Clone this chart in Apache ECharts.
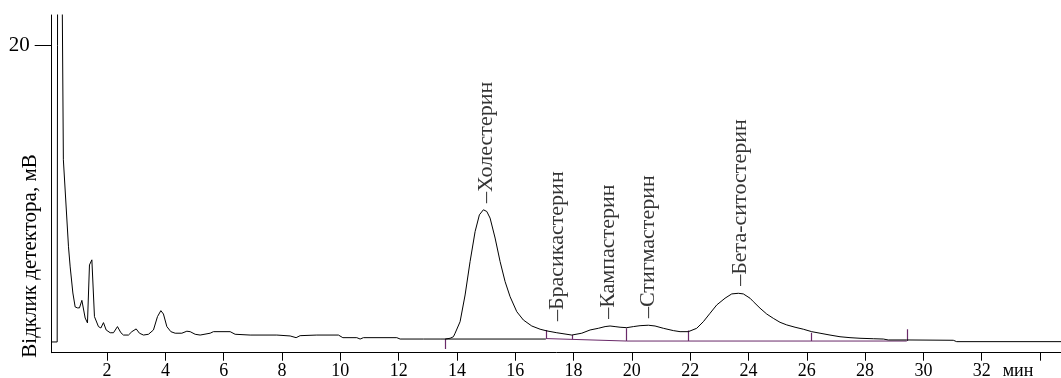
<!DOCTYPE html>
<html><head><meta charset="utf-8">
<script src="https://cdn.jsdelivr.net/npm/echarts@6/dist/echarts.min.js"></script>
<style>html,body{margin:0;padding:0;background:#fff}#c{width:1061px;height:378px}</style>
</head><body><div id="c"></div>
<script>
// Chromatogram trace: retention time (min) and detector response (mV)
const traceTime = [0.106,0.288,0.30,0.31,0.44,0.465,0.50,0.676,0.734,0.826,0.905,0.984,1.053,1.135,1.248,1.327,1.396,1.478,1.512,1.567,1.704,1.787,1.876,1.968,2.106,2.219,2.356,2.473,2.562,2.733,2.850,2.997,3.110,3.248,3.419,3.590,3.728,3.844,3.933,4.050,4.187,4.335,4.564,4.736,4.849,5.021,5.192,5.535,5.648,6.221,6.392,6.907,7.822,8.279,8.484,8.621,9.194,9.935,10.086,10.566,10.679,10.792,11.938,12.051,12.850,13.422,13.594,13.765,13.879,13.937,14.108,14.280,14.451,14.623,14.770,14.907,15.024,15.137,15.309,15.480,15.652,15.823,16.053,16.279,16.567,16.852,17.082,17.425,17.939,18.282,18.567,18.851,19.081,19.252,19.424,19.595,19.825,20.051,20.281,20.566,20.795,21.080,21.423,21.653,21.937,22.225,22.452,22.682,22.911,23.196,23.426,23.652,23.824,24.053,24.166,24.396,24.626,24.852,25.082,25.312,25.597,25.881,26.169,26.454,26.797,27.140,27.483,27.826,28.282,28.625,28.796,29.427,31.025,31.142,34.72];
const traceSignal = [0.70,0.70,20,45,45,22.0,12.57,6.90,5.59,3.89,2.98,2.92,2.92,3.41,2.26,1.94,5.72,6.05,6.08,2.35,1.70,1.61,1.96,1.48,1.30,1.30,1.70,1.30,1.15,1.15,1.37,1.55,1.27,1.15,1.20,1.48,2.35,2.74,2.52,1.70,1.37,1.27,1.27,1.40,1.37,1.20,1.15,1.27,1.37,1.37,1.20,1.15,1.15,1.09,0.98,1.11,1.15,1.15,0.98,0.98,0.89,0.98,0.98,0.89,0.89,0.89,0.89,0.94,1.04,1.27,2.02,3.76,5.94,7.89,8.98,9.31,9.20,8.77,7.47,5.94,4.63,3.65,2.67,2.13,1.74,1.53,1.42,1.30,1.15,1.27,1.48,1.59,1.70,1.74,1.70,1.66,1.63,1.70,1.76,1.79,1.74,1.59,1.44,1.37,1.37,1.59,2.02,2.57,3.11,3.55,3.83,3.87,3.83,3.55,3.33,2.90,2.52,2.24,1.98,1.81,1.66,1.53,1.37,1.27,1.15,1.04,0.98,0.94,0.91,0.89,0.83,0.83,0.81,0.72,0.72];

// Identified peaks
const peakNames = ['Холестерин','Брасикастерин','Кампастерин','Стигмастерин','Бета-ситостерин'];
const peakTimes = [15.0, 17.45, 19.2, 20.55, 23.7];
const peakHeights = [9.3, 1.6, 1.75, 1.8, 3.9];

// Integration baselines
const cholBaseTime = [13.6, 17.05];
const cholBaseSignal = [0.89, 0.89];
const sterolBaseTime = [17.05, 19.82, 29.43];
const sterolBaseSignal = [0.92, 0.76, 0.76];
const dropTime = [13.6, 17.05, 17.97, 19.82, 21.92, 26.17, 29.43];
const dropFrom = [0.24, 0.92, 0.87, 0.76, 0.76, 0.76, 0.76];
const dropTo = [0.89, 1.48, 1.15, 1.59, 1.44, 1.30, 1.53];

// Axis ticks
const xTickValues = [2,4,6,8,10,12,14,16,18,20,22,24,26,28,30,32,34];
const xTickLabels = ['2','4','6','8','10','12','14','16','18','20','22','24','26','28','30','32','мин'];
const yTickValues = [20];
const yTickLabels = ['20'];
const yAxisTitle = 'Відклик детектора, мВ';

const FONT = '"Liberation Serif", "DejaVu Serif", serif';
const PURPLE = '#6a2a69';

const chart = echarts.init(document.getElementById('c'), null, {renderer: 'canvas'});
chart.setOption({
  animation: false,
  backgroundColor: '#fff',
  grid: {left: 51.7, right: 0, top: 15, bottom: 25.3, containLabel: false, outerBoundsMode: 'none'},
  xAxis: {
    type: 'value', min: 0.1, max: 34.72,
    axisLine: {show: true, onZero: false, lineStyle: {color: '#000', width: 1}},
    axisTick: {show: true, customValues: xTickValues, length: 8, lineStyle: {color: '#000', width: 1}},
    axisLabel: {
      show: true, customValues: xTickValues, margin: 10,
      color: '#000', fontSize: 18, fontFamily: FONT,
      formatter: function (v) {
        const i = xTickValues.indexOf(Math.round(v));
        const s = i >= 0 ? xTickLabels[i] : '';
        return s === 'мин' ? '{m|' + s + '}' : s;
      },
      rich: {m: {fontSize: 18, fontFamily: FONT, color: '#000', padding: [0, 44, 0, 0]}}
    },
    splitLine: {show: false}
  },
  yAxis: {
    type: 'value', min: 0, max: 22,
    axisLine: {show: true, onZero: false, lineStyle: {color: '#000', width: 1}},
    axisTick: {show: true, customValues: yTickValues, length: 17, lineStyle: {color: '#000', width: 1}},
    axisLabel: {
      show: true, customValues: yTickValues, margin: 22,
      color: '#000', fontSize: 21, fontFamily: FONT,
      formatter: function (v) {
        const i = yTickValues.indexOf(Math.round(v));
        return i >= 0 ? yTickLabels[i] : '';
      }
    },
    splitLine: {show: false}
  },
  graphic: [{
    type: 'text', x: 30, y: 256, rotation: Math.PI / 2, silent: true,
    style: {text: yAxisTitle, fontSize: 21, fontFamily: FONT, fill: '#000', align: 'center', verticalAlign: 'middle'}
  }],
  series: [
    {
      type: 'line', name: 'trace', showSymbol: false, clip: true, z: 3,
      lineStyle: {color: '#000', width: 1},
      data: traceTime.map((t, i) => [t, traceSignal[i]])
    },
    {
      type: 'line', name: 'cholBase', showSymbol: false, z: 2,
      lineStyle: {color: '#000', width: 1},
      data: cholBaseTime.map((t, i) => [t, cholBaseSignal[i]])
    },
    {
      type: 'line', name: 'sterolBase', showSymbol: false, z: 2,
      lineStyle: {color: PURPLE, width: 1},
      data: sterolBaseTime.map((t, i) => [t, sterolBaseSignal[i]])
    },
    {
      type: 'lines', coordinateSystem: 'cartesian2d', z: 2,
      lineStyle: {color: PURPLE, width: 1.2, opacity: 1},
      data: dropTime.map((t, i) => ({coords: [[t, dropFrom[i]], [t, dropTo[i]]]}))
    },
    {
      type: 'scatter', name: 'peaks', symbolSize: 0.1, z: 4,
      itemStyle: {color: 'rgba(0,0,0,0)'},
      data: peakNames.map((n, i) => ({name: n, value: [peakTimes[i], peakHeights[i]]})),
      label: {
        show: true, position: 'top', distance: 7, rotate: 90,
        align: 'left', verticalAlign: 'middle',
        formatter: '–{b}', color: '#000', fontSize: 22, fontFamily: FONT
      }
    }
  ]
});
</script>
</body></html>
